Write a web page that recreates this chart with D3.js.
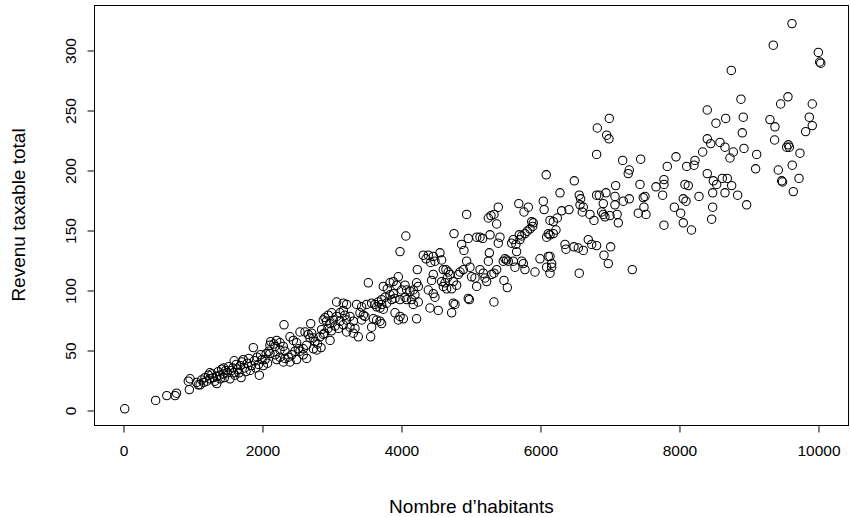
<!DOCTYPE html>
<html>
<head>
<meta charset="utf-8">
<script src="https://cdn.jsdelivr.net/npm/d3@7"></script>
<style>
  html, body { margin: 0; padding: 0; background: #ffffff; }
  svg { display: block; }
  text { font-family: "Liberation Sans", Arial, Helvetica, sans-serif; fill: #000; }
</style>
</head>
<body>
<svg id="chart" width="850" height="517"></svg>
<script>
// Communes: population (habitants) and total taxable income (revenu)
const habitants = [
  25, 470, 630, 750, 770, 940, 965, 955, 1060, 1085,
  1110, 1130, 1160, 1180, 1205, 1230, 1250, 1280, 1300, 1320,
  1350, 1370, 1390, 1400, 1420, 1440, 1460, 1480, 1500, 1520,
  1540, 1560, 1580, 1590, 1610, 1630, 1650, 1670, 1690, 1710,
  1730, 1750, 1770, 1790, 1810, 1830, 1850, 1875, 1890, 1910,
  1930, 1950, 1962, 1980, 2000, 2020, 2045, 2060, 2080, 2100,
  1600, 1700, 1450, 1350, 1250,
  2125, 2170, 2211, 2259, 2115, 2187, 2307, 2259, 2331, 2115,
  2187, 2259, 2331, 2379, 2427, 2475, 2523, 2547, 2594, 2643,
  2499, 2403, 2307, 2211, 2317, 2701, 2547, 2403, 2451, 2499,
  2619, 2667, 2715, 2691, 2739, 2763, 2643, 2594, 2739, 2787,
  2858, 2834, 2882, 3003, 2954, 2906, 2882, 2930, 2978, 3026,
  3074, 3074, 2900, 2950, 3000, 3050, 2980, 2800, 2850, 3100,
  3530, 3746, 3803, 3842, 3890, 3962, 3938, 4058, 4082, 4010,
  3890, 3842, 3770, 3722, 3674, 3722, 3794, 3866, 3914, 3986,
  4058, 4082, 3170, 3218, 3362, 3434, 3506, 3578, 3626, 3650,
  3698, 3746, 3914, 3986, 4034, 3962, 3170, 3122, 3194, 3266,
  3218, 3314, 3122, 3170, 3266, 3338, 3218, 3314, 3386, 3410,
  3458, 3482, 3434, 3602, 3650, 3698, 3722, 3578, 3564, 3986,
  4070, 4763, 4968, 5090, 4873, 4906, 4321, 4393, 4465, 4561,
  4585, 4489, 4427, 4360, 4235, 4945, 4993, 4849, 4825, 4897,
  4609, 4647, 4681, 4705, 4666, 4585, 4633, 4609, 4657, 4465,
  4441, 4753, 4801, 4729, 5017, 5065, 5089, 4393, 4465, 4489,
  4225, 4249, 4177, 4129, 4201, 4153, 4249, 4177, 4753, 4777,
  4968, 4983, 4417, 4537, 4729, 4225, 4945,
  5400, 5695, 5770, 5832, 6048, 6060, 5338, 5295, 5257, 5377,
  5137, 5175, 5281, 5424, 5400, 5881, 5904, 5895, 5856, 5817,
  5784, 5737, 5702, 6120, 6096, 5616, 5592, 5654, 5712, 5664,
  5271, 5257, 5496, 5520, 5544, 5472, 5616, 5640, 5737, 5760,
  6000, 6120, 5928, 6096, 5784, 5137, 5184, 5209, 5233, 5305,
  5377, 5338, 5482, 5530, 5338,
  6090, 6815, 6494, 7089, 6288, 6565, 6585, 6576, 6815, 6853,
  6950, 6911, 7079, 7079, 6623, 6609, 6719, 6777, 6887, 6911,
  6935, 7007, 6417, 6312, 6249, 6192, 6144, 6230, 6192, 6144,
  7127, 6695, 6744, 6815, 6360, 6374, 6489, 6551, 6623, 7017,
  6921, 6983, 6144, 6168, 6168, 6144, 6565, 6997, 6825, 6960,
  6993,
  7190, 7449, 7957, 7832, 8111, 7285, 7270, 7439, 7784, 7784,
  7669, 8086, 8134, 7765, 7285, 7199, 7486, 7511, 7496, 8062,
  8101, 7933, 7415, 7525, 8024, 7110, 8062, 7784, 7328,
  8753, 8892, 8407, 8925, 8672, 8532, 8911, 8407, 8456, 8590,
  8662, 8782, 8734, 8935, 8341, 8230, 8216, 9118, 9103, 8407,
  8494, 8542, 8623, 8695, 8758, 8288, 8485, 8662, 8844, 8974,
  8485, 8470, 8180,
  9626, 9357, 10005, 10025, 10040, 9568, 9463, 9918, 9309, 9381,
  9875, 9918, 9823, 9376, 9573, 9588, 9550, 9741, 9630, 9429,
  9478, 9490, 9727, 9645
];

const revenu = [
  1, 8, 12, 12, 14, 24, 26, 17, 23, 21,
  21, 25, 23, 27, 24, 29, 26, 30, 27, 24,
  28, 32, 29, 26, 34, 30, 27, 33, 31, 36,
  26, 33, 35, 31, 29, 38, 34, 31, 37, 40,
  42, 35, 32, 39, 43, 33, 37, 52, 41, 35,
  44, 38, 29, 46, 42, 37, 42, 47, 39, 49,
  41, 27, 35, 22, 31,
  57, 55, 58, 56, 54, 53, 53, 50, 49, 47,
  46, 44, 43, 44, 46, 49, 51, 49, 46, 43,
  42, 40, 40, 42, 71, 72, 65, 61, 58, 56,
  65, 63, 64, 60, 60, 57, 54, 51, 51, 50,
  67, 61, 63, 81, 79, 77, 75, 74, 72, 75,
  78, 90, 64, 68, 66, 70, 58, 55, 52, 68,
  106, 103, 101, 106, 107, 111, 104, 104, 100, 100,
  97, 96, 94, 92, 90, 88, 89, 92, 93, 92,
  94, 92, 89, 88, 88, 86, 88, 89, 88, 86,
  85, 84, 81, 78, 76, 75, 83, 81, 79, 78,
  75, 74, 74, 71, 69, 68, 65, 64, 61, 81,
  79, 78, 75, 76, 75, 74, 72, 69, 61, 132,
  145, 147, 143, 144, 138, 133, 129, 129, 128, 131,
  125, 124, 123, 126, 117, 124, 119, 115, 113, 117,
  117, 117, 115, 113, 110, 107, 106, 103, 101, 113,
  108, 107, 104, 101, 111, 110, 103, 100, 97, 94,
  106, 103, 100, 99, 96, 92, 90, 88, 89, 88,
  93, 92, 85, 83, 81, 76, 163,
  169, 172, 165, 169, 174, 167, 163, 162, 160, 155,
  144, 143, 146, 144, 139, 157, 156, 153, 151, 149,
  147, 145, 146, 147, 144, 142, 139, 138, 142, 132,
  131, 124, 126, 125, 124, 124, 124, 119, 124, 122,
  126, 128, 115, 119, 117, 117, 114, 110, 107, 113,
  117, 114, 108, 102, 90,
  196, 213, 191, 187, 181, 179, 176, 171, 179, 179,
  181, 172, 178, 171, 169, 165, 163, 158, 165, 163,
  161, 162, 167, 166, 160, 157, 158, 150, 147, 146,
  156, 142, 138, 137, 138, 134, 136, 135, 133, 136,
  129, 122, 128, 122, 119, 114, 114, 243, 235, 229,
  226,
  208, 209, 211, 203, 203, 200, 197, 188, 192, 188,
  186, 188, 187, 179, 176, 174, 177, 178, 169, 176,
  174, 169, 164, 163, 164, 163, 156, 154, 117,
  283, 259, 250, 244, 243, 239, 231, 226, 222, 223,
  219, 215, 210, 218, 215, 208, 204, 213, 201, 197,
  191, 188, 193, 193, 187, 178, 181, 181, 179, 171,
  169, 159, 150,
  322, 304, 298, 290, 289, 261, 255, 255, 242, 236,
  244, 237, 232, 225, 221, 219, 219, 214, 204, 200,
  191, 190, 193, 182
];

const xTicks = [0, 2000, 4000, 6000, 8000, 10000];
const yTicks = [0, 50, 100, 150, 200, 250, 300];
const xTitle = "Nombre d\u2019habitants";
const yTitle = "Revenu taxable total";

const points = habitants.map((h, i) => ({ h, r: revenu[i] }));

const box = { left: 94, right: 848, top: 5, bottom: 425 };
const svg = d3.select("#chart");

// Plot region extends a little beyond the data range on each side
const x = d3.scaleLinear().domain([-417, 10432]).range([box.left, box.right]);
const y = d3.scaleLinear().domain([-12.5, 337.5]).range([box.bottom, box.top]);

const tickFont = 15.5;
const titleFont = 19;

// Frame around the plotting region
svg.append("rect")
  .attr("x", box.left + 0.5).attr("y", box.top + 0.5)
  .attr("width", box.right - box.left).attr("height", box.bottom - box.top)
  .attr("fill", "none").attr("stroke", "#000").attr("stroke-width", 1);

// X axis
const gx = svg.append("g")
  .attr("transform", `translate(0.5,${box.bottom + 0.5})`)
  .call(d3.axisBottom(x).tickValues(xTicks).tickSize(7).tickPadding(12).tickFormat(d3.format("d")));
gx.select(".domain").remove();
gx.append("line")
  .attr("x1", x(xTicks[0])).attr("x2", x(xTicks[xTicks.length - 1]))
  .attr("stroke", "#000");
gx.selectAll("text").attr("font-size", tickFont).attr("font-family", null).style("fill", "#000");
gx.selectAll(".tick line").attr("stroke", "#000");

// Y axis with labels turned parallel to the axis
const gy = svg.append("g")
  .attr("transform", `translate(${box.left + 0.5},0.5)`)
  .call(d3.axisLeft(y).tickValues(yTicks).tickSize(7).tickFormat(d3.format("d")));
gy.select(".domain").remove();
gy.append("line")
  .attr("y1", y(yTicks[0])).attr("y2", y(yTicks[yTicks.length - 1]))
  .attr("stroke", "#000");
gy.selectAll(".tick line").attr("stroke", "#000");
gy.selectAll(".tick text")
  .attr("font-size", tickFont).attr("font-family", null).style("fill", "#000")
  .attr("x", null).attr("dy", null)
  .attr("text-anchor", "middle")
  .attr("transform", "translate(-19,0) rotate(-90)");

// Axis titles
svg.append("text")
  .attr("x", (box.left + box.right) / 2 + 0.5)
  .attr("y", 513)
  .attr("text-anchor", "middle")
  .attr("font-size", titleFont)
  .text(xTitle);

svg.append("text")
  .attr("transform", `translate(25,${(box.top + box.bottom) / 2}) rotate(-90)`)
  .attr("text-anchor", "middle")
  .attr("font-size", titleFont)
  .text(yTitle);

// Open circles, one per commune
svg.append("g")
  .selectAll("circle")
  .data(points)
  .join("circle")
  .attr("cx", d => x(d.h))
  .attr("cy", d => y(d.r))
  .attr("r", 4.2)
  .attr("fill", "none")
  .attr("stroke", "#000")
  .attr("stroke-width", 1.05);
</script>
</body>
</html>
